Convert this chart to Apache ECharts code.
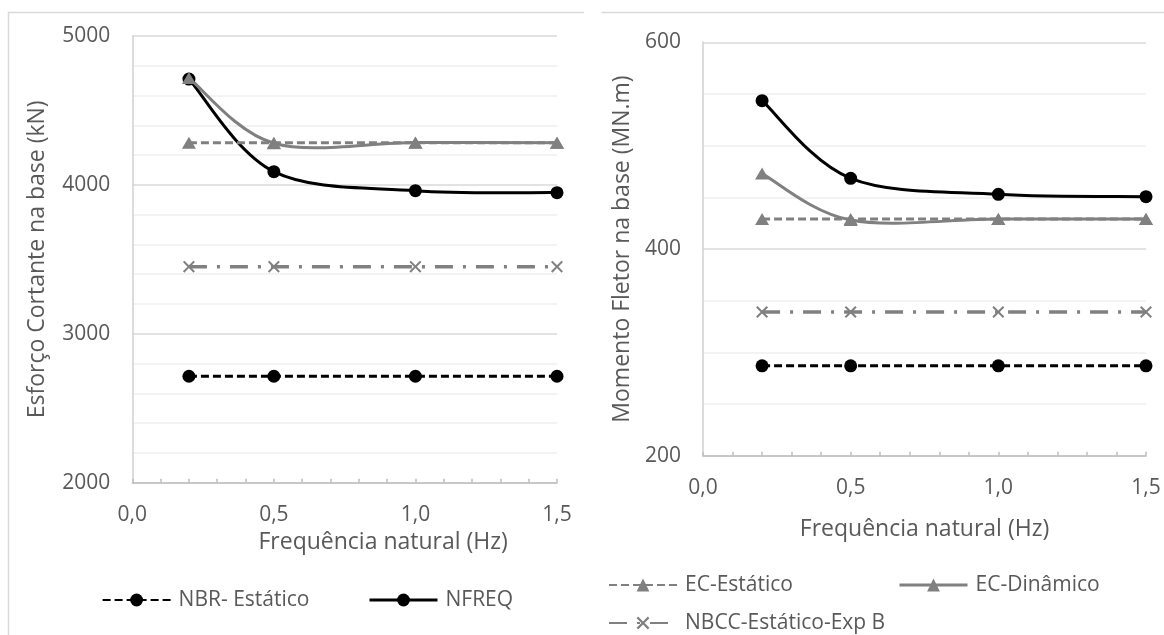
<!DOCTYPE html>
<html>
<head>
<meta charset="utf-8">
<script src="https://cdn.jsdelivr.net/npm/echarts@6/dist/echarts.min.js"></script>
<style>
html,body{margin:0;padding:0;background:#fff;}
#c{width:1164px;height:635px;}
</style>
</head>
<body>
<div id="c"></div>
<script>
// ---- data ----
const freq = [0.2, 0.5, 1.0, 1.5];
const shearNBR   = [2715, 2715, 2715, 2715];
const shearNFREQ = [4711, 4089, 3961, 3948];
const shearECEst = [4283, 4283, 4283, 4283];
const shearECDin = [4718, 4280, 4285, 4283];
const shearNBCC  = [3451, 3451, 3451, 3451];
const momNBR   = [287, 287, 287, 287];
const momNFREQ = [543.5, 468.4, 452.9, 450.6];
const momECEst = [429, 429, 429, 429];
const momECDin = [473, 428, 429, 429];
const momNBCC  = [339, 339, 339, 339];
const names = ['NBR- Estático', 'NFREQ', 'EC-Estático', 'EC-Dinâmico', 'NBCC-Estático-Exp B'];
const xTitle = 'Frequência natural (Hz)';
const yTitleLeft = 'Esforço Cortante na base (kN)';
const yTitleRight = 'Momento Fletor na base (MN.m)';

const FONT = '"Open Sans", Lato, sans-serif';
const TXT = '#595959';
const FS = 21;      // tick labels, legend
const FT = 23;      // axis titles
const GRAY = '#808080';
const LW = 3;
const CROSS = 'path://M0,1.2L1.2,0L5,3.8L8.8,0L10,1.2L6.2,5L10,8.8L8.8,10L5,6.2L1.2,10L0,8.8L3.8,5Z';

function pairs(ys){ return freq.map((x,i)=>[x, ys[i]]); }

function xAxis(gridIndex, nameGap, padLeft){
  return {
    type:'value', gridIndex, min:0, max:1.5, interval:0.5,
    name: xTitle, nameLocation:'middle', nameGap,
    nameTextStyle:{fontFamily:FONT, fontSize:FT, color:TXT, padding:[0,0,0,padLeft]},
    axisLine:{show:true, onZero:false, lineStyle:{color:'#bfbfbf', width:1.5}},
    axisTick:{show:true, inside:true, length:4, lineStyle:{color:'#bfbfbf', width:1.5}},
    minorTick:{show:true, splitNumber:5, length:4, lineStyle:{color:'#bfbfbf', width:1.5}},
    axisLabel:{margin:22, fontFamily:FONT, fontSize:FS, color:TXT,
      formatter:v=>v.toFixed(1).replace('.', ',')},
    splitLine:{show:false}
  };
}
function yAxis(gridIndex, min, max, interval, minorSplit, name, nameGap){
  return {
    type:'value', gridIndex, min, max, interval,
    name, nameLocation:'middle', nameGap,
    nameTextStyle:{fontFamily:FONT, fontSize:FT, color:TXT},
    axisLine:{show:true, lineStyle:{color:'#d0d0d0', width:1.5}},
    axisTick:{show:false},
    axisLabel:{margin:22, fontFamily:FONT, fontSize:FS, color:TXT, formatter:v=>String(v)},
    splitLine:{show:true, lineStyle:{color:'#d9d9d9', width:1.5}},
    minorTick:{show:false, splitNumber:minorSplit},
    minorSplitLine:{show:true, lineStyle:{color:'#efefef', width:1.5}}
  };
}

// Excel-like smoothed curve through the data points (Catmull-Rom style Bezier),
// positioned through the axis scales with api.coord
function smoothCurve(idx, ys, color){
  const pts = pairs(ys);
  return {
    type:'custom', coordinateSystem:'cartesian2d', xAxisIndex:idx, yAxisIndex:idx,
    silent:true, animation:false, data:pts,
    renderItem(params, api){
      const i = params.dataIndex;
      if (i >= pts.length - 1) return null;
      const P = k => api.coord(pts[Math.max(0, Math.min(pts.length - 1, k))]);
      const p0 = P(i-1), p1 = P(i), p2 = P(i+1), p3 = P(i+2);
      const t = 1/6;
      return {
        type:'bezierCurve',
        shape:{
          x1:p1[0], y1:p1[1],
          cpx1:p1[0] + (p2[0]-p0[0])*t, cpy1:p1[1] + (p2[1]-p0[1])*t,
          cpx2:p2[0] - (p3[0]-p1[0])*t, cpy2:p2[1] - (p3[1]-p1[1])*t,
          x2:p2[0], y2:p2[1]
        },
        style:{stroke:color, lineWidth:LW, fill:null, lineCap:'round'}
      };
    }
  };
}

function seriesSet(idx, nbr, nfreq, ecEst, ecDin, nbcc){
  const base = {type:'line', xAxisIndex:idx, yAxisIndex:idx, animation:false};
  return [
    Object.assign({}, base, {name:names[0], data:pairs(nbr),
      symbol:'circle', symbolSize:13, itemStyle:{color:'#000'},
      lineStyle:{color:'#000', width:LW, type:[8,4]}}),
    smoothCurve(idx, nfreq, '#000'),
    Object.assign({}, base, {name:names[1], data:pairs(nfreq),
      symbol:'circle', symbolSize:13, itemStyle:{color:'#000'},
      lineStyle:{color:'#000', width:LW, opacity:0}}),
    Object.assign({}, base, {name:names[2], data:pairs(ecEst),
      symbol:'triangle', symbolSize:[14,12], itemStyle:{color:GRAY},
      lineStyle:{color:GRAY, width:LW, type:[8,4]}}),
    smoothCurve(idx, ecDin, GRAY),
    Object.assign({}, base, {name:names[3], data:pairs(ecDin),
      symbol:'triangle', symbolSize:[14,12], itemStyle:{color:GRAY},
      lineStyle:{color:GRAY, width:LW, opacity:0}}),
    Object.assign({}, base, {name:names[4], data:pairs(nbcc),
      symbol:CROSS, symbolSize:12, itemStyle:{color:GRAY},
      lineStyle:{color:GRAY, width:3.5, type:[18,10,3,10]}})
  ];
}

function legend(name, left, cy, lineColor){
  const l = {
    data:[name], left, top:cy-12, padding:0, itemWidth:68, itemHeight:16,
    textStyle:{fontFamily:FONT, fontSize:FS, color:TXT, lineHeight:24, padding:[0,0,0,3]},
    selectedMode:false
  };
  if (lineColor) l.lineStyle = {color:lineColor, width:LW, type:'solid', opacity:1};
  return l;
}

const chart = echarts.init(document.getElementById('c'), null, {renderer:'canvas'});
chart.setOption({
  backgroundColor:'#fff',
  animation:false,
  grid:[
    {left:132.3, right:1164-557, top:36, bottom:635-482.7, containLabel:false, outerBoundsMode:'none'},
    {left:703, right:1164-1146, top:42.3, bottom:635-455.7, containLabel:false, outerBoundsMode:'none'}
  ],
  xAxis:[xAxis(0, 43, 77), xAxis(1, 62, 0)],
  yAxis:[
    yAxis(0, 2000, 5000, 1000, 5, yTitleLeft, 83),
    yAxis(1, 200, 600, 200, 4, yTitleRight, 69.5)
  ],
  legend:[
    legend(names[0], 101.6, 600),
    legend(names[1], 368, 600, '#000'),
    legend(names[2], 608, 585),
    legend(names[3], 898, 585, GRAY),
    legend(names[4], 608, 623)
  ],
  graphic:[
    {type:'polyline', silent:true, shape:{points:[[8.5,635],[8.5,12.5],[584,12.5]]},
      style:{stroke:'#d9d9d9', lineWidth:1.5, fill:null}},
    {type:'polyline', silent:true, shape:{points:[[601.5,12.5],[1164,12.5]]},
      style:{stroke:'#d9d9d9', lineWidth:1.5, fill:null}}
  ],
  series:[].concat(
    seriesSet(0, shearNBR, shearNFREQ, shearECEst, shearECDin, shearNBCC),
    seriesSet(1, momNBR, momNFREQ, momECEst, momECDin, momNBCC)
  )
});
</script>
</body>
</html>
